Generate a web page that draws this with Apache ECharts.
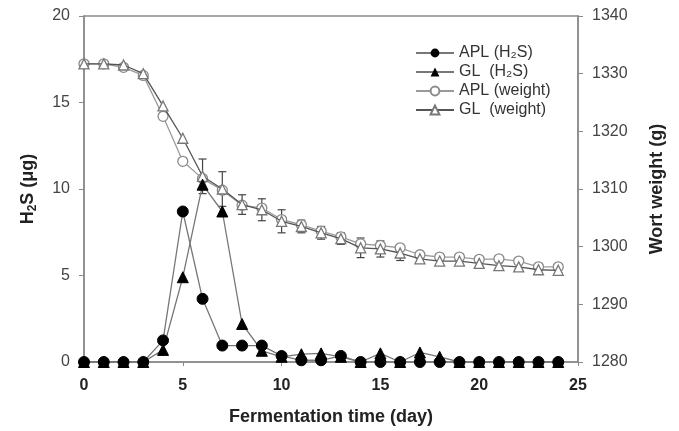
<!DOCTYPE html>
<html>
<head>
<meta charset="utf-8">
<script src="https://cdn.jsdelivr.net/npm/echarts@6/dist/echarts.min.js"></script>
<style>
  html, body { margin: 0; padding: 0; background: #fff; }
  #chart { width: 679px; height: 431px; }
</style>
</head>
<body>
<div id="chart"></div>
<script>
// fermentation days
const days = [0, 1, 2, 3, 4, 5, 6, 7, 8, 9, 10, 11, 12, 13, 14, 15, 16, 17, 18, 19, 20, 21, 22, 23, 24]

// H2S (ug)
const aplH2S = [0, 0, 0, 0, 1.25, 8.7, 3.65, 0.95, 0.95, 0.95, 0.35, 0.1, 0.1, 0.35, 0, 0, 0, 0, 0, 0, 0, 0, 0, 0, 0]
const glH2S = [0, 0, 0, 0, 0.7, 4.9, 10.25, 8.7, 2.2, 0.65, 0.3, 0.45, 0.5, 0.3, 0, 0.5, 0, 0.55, 0.3, 0, 0, 0, 0, 0, 0]

// wort weight (g)
const aplWeight = [1331.7, 1331.7, 1331.1, 1329.7, 1322.6, 1314.8, 1311.8, 1309.8, 1307.2, 1306.7, 1304.7, 1303.8, 1302.7,
  1301.7, 1300.5, 1300.2, 1299.8, 1298.6, 1298.2, 1298.2, 1297.8, 1297.9, 1297.5, 1296.5, 1296.5]
const glWeight = [1331.7, 1331.7, 1331.5, 1330.0, 1324.4, 1318.8, 1312.2, 1310.0, 1307.3, 1306.4, 1304.4, 1303.5, 1302.4,
  1301.4, 1299.8, 1299.6, 1298.9, 1297.9, 1297.5, 1297.5, 1297.1, 1296.7, 1296.5, 1296.0, 1295.9]
const glWeightErr = [0, 0, 0, 0, 0, 0, 3, 3, 1.7, 1.9, 2, 1.1, 1.1, 1, 1.7, 1.4, 1.3, 0.5, 0.5, 0.4, 0.4, 0.5, 0.4, 0.4, 0.4]

// axis ticks
const xTicks = { min: 0, max: 25, interval: 5 }
const h2sTicks = { min: 0, max: 20, interval: 5 }
const weightTicks = { min: 1280, max: 1340, interval: 10 }

const font = 'Liberation Sans, Arial, sans-serif'
const axisGray = '#8a8a8a'

const chart = echarts.init(document.getElementById('chart'))

const pairs = (ys) => days.map((d, i) => [d, ys[i]])

chart.setOption({
  animation: false,
  textStyle: { fontFamily: font },
  grid: {
    left: 84, right: 101, top: 16, bottom: 68,
    show: true, borderColor: axisGray, borderWidth: 1.5
  },
  legend: {
    orient: 'vertical',
    left: 410, top: 40,
    itemWidth: 38, itemHeight: 11, itemGap: 3,
    textStyle: { fontSize: 16, color: '#333', fontFamily: font },
    data: ['APL (H₂S)', 'GL  (H₂S)', 'APL (weight)', 'GL  (weight)']
  },
  xAxis: {
    type: 'value',
    min: xTicks.min, max: xTicks.max, interval: xTicks.interval,
    name: 'Fermentation time (day)',
    nameLocation: 'middle', nameGap: 46,
    nameTextStyle: { fontSize: 18, fontWeight: 'bold', color: '#222', fontFamily: font },
    axisLine: { lineStyle: { color: axisGray, width: 1.5 } },
    axisTick: { length: 4, lineStyle: { color: axisGray } },
    axisLabel: { fontSize: 16, fontWeight: 'bold', color: '#222', margin: 16 },
    splitLine: { show: false }
  },
  yAxis: [
    {
      type: 'value',
      min: h2sTicks.min, max: h2sTicks.max, interval: h2sTicks.interval,
      name: '{a|H}{b|2}{a|S (μg)}',
      nameLocation: 'middle', nameGap: 45, nameRotate: 90,
      nameTextStyle: {
        rich: {
          a: { fontSize: 18, fontWeight: 'bold', color: '#222', fontFamily: font, lineHeight: 22 },
          b: { fontSize: 12, fontWeight: 'bold', color: '#222', fontFamily: font, lineHeight: 22, verticalAlign: 'bottom', padding: [8, 0, 0, 0] }
        }
      },
      axisLine: { show: true, lineStyle: { color: axisGray, width: 1.5 } },
      axisTick: { show: true, length: 5, lineStyle: { color: axisGray } },
      axisLabel: { fontSize: 16, color: '#444', margin: 14 },
      splitLine: { show: false }
    },
    {
      type: 'value',
      position: 'right',
      min: weightTicks.min, max: weightTicks.max, interval: weightTicks.interval,
      name: 'Wort weight (g)',
      nameLocation: 'middle', nameGap: 70, nameRotate: 90,
      nameTextStyle: { fontSize: 18, fontWeight: 'bold', color: '#222', fontFamily: font },
      axisLine: { show: true, lineStyle: { color: axisGray, width: 1.5 } },
      axisTick: { show: true, length: 5, lineStyle: { color: axisGray } },
      axisLabel: { fontSize: 16, color: '#444', margin: 14, formatter: (v) => String(v) },
      splitLine: { show: false }
    }
  ],
  series: [
    {
      type: 'custom',
      name: 'err',
      yAxisIndex: 1,
      z: 1,
      silent: true,
      data: days.map((d, i) => [d, glWeight[i], glWeightErr[i]]),
      renderItem: (params, api) => {
        const x = api.value(0)
        const y = api.value(1)
        const e = api.value(2)
        if (!e) return
        const top = api.coord([x, y + e])
        const bot = api.coord([x, y - e])
        const style = { stroke: '#444', lineWidth: 1.2 }
        return {
          type: 'group',
          children: [
            { type: 'line', shape: { x1: top[0], y1: top[1], x2: bot[0], y2: bot[1] }, style },
            { type: 'line', shape: { x1: top[0] - 4, y1: top[1], x2: top[0] + 4, y2: top[1] }, style },
            { type: 'line', shape: { x1: bot[0] - 4, y1: bot[1], x2: bot[0] + 4, y2: bot[1] }, style }
          ]
        }
      }
    },
    {
      name: 'APL (weight)',
      type: 'line',
      yAxisIndex: 1,
      data: pairs(aplWeight),
      symbol: 'circle', symbolSize: 10,
      lineStyle: { color: '#9a9a9a', width: 1.3 },
      itemStyle: { color: '#fff', borderColor: '#8a8a8a', borderWidth: 1.3 },
      z: 2
    },
    {
      name: 'GL  (weight)',
      type: 'line',
      yAxisIndex: 1,
      data: pairs(glWeight),
      symbol: 'triangle', symbolSize: 10,
      lineStyle: { color: '#555', width: 1.3 },
      itemStyle: { color: '#fff', borderColor: '#777', borderWidth: 1.3 },
      z: 3
    },
    {
      name: 'APL (H₂S)',
      type: 'line',
      yAxisIndex: 0,
      data: pairs(aplH2S),
      symbol: 'circle', symbolSize: 11,
      lineStyle: { color: '#777', width: 1.3 },
      itemStyle: { color: '#000', borderColor: '#000' },
      z: 4
    },
    {
      name: 'GL  (H₂S)',
      type: 'line',
      yAxisIndex: 0,
      data: pairs(glH2S),
      symbol: 'triangle', symbolSize: 11,
      lineStyle: { color: '#777', width: 1.3 },
      itemStyle: { color: '#000', borderColor: '#000' },
      z: 4
    }
  ]
})
</script>
</body>
</html>
